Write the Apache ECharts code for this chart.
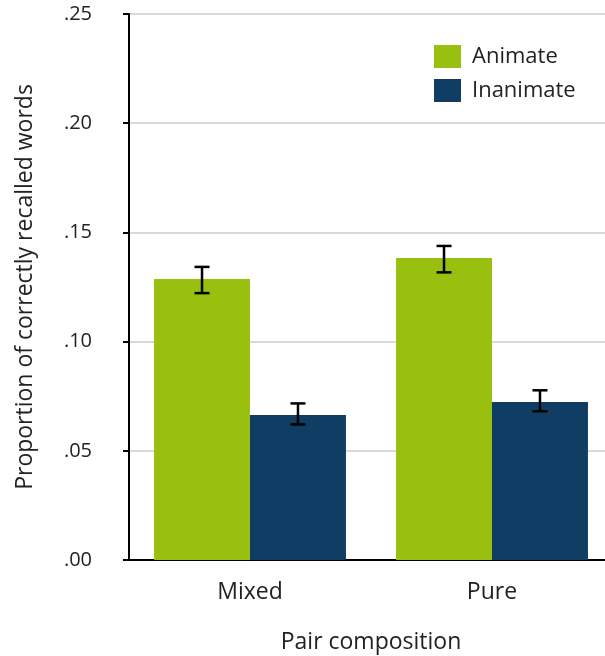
<!DOCTYPE html>
<html>
<head>
<meta charset="utf-8">
<script src="https://cdn.jsdelivr.net/npm/echarts@6/dist/echarts.min.js"></script>
<style>html,body{margin:0;padding:0;background:#fff}#c{width:605px;height:656px}</style>
</head>
<body>
<div id="c"></div>
<script>
var categories = ['Mixed', 'Pure'];
var seriesNames = ['Animate', 'Inanimate'];
var animate = [0.1287, 0.1383];
var inanimate = [0.0664, 0.0723];
var animateLow = [0.1222, 0.1317];
var animateHigh = [0.1342, 0.1438];
var inanimateLow = [0.0621, 0.0681];
var inanimateHigh = [0.0717, 0.0777];
var yTicks = [0, 0.05, 0.10, 0.15, 0.20, 0.25];

var colors = ['#99bf0f', '#0f3d63'];
var FONT = 'Open Sans';
var gapPct = 0.207;

function errData(low, high) {
  return categories.map(function (c, i) { return [i, low[i], high[i]]; });
}
function errSeries(low, high, sideIdx) {
  return {
    type: 'custom',
    silent: true,
    z: 10,
    data: errData(low, high),
    renderItem: function (params, api) {
      var idx = api.value(0);
      var lo = api.coord([idx, api.value(1)]);
      var hi = api.coord([idx, api.value(2)]);
      var bw = api.size([1, 0])[0];
      var barW = bw * (1 - gapPct) / 2;
      var x = lo[0] + (sideIdx === 0 ? -barW / 2 : barW / 2);
      var cap = 7.5;
      var st = { stroke: '#000', lineWidth: 2.5 };
      return {
        type: 'group',
        children: [
          { type: 'line', shape: { x1: x, y1: lo[1], x2: x, y2: hi[1] }, style: st },
          { type: 'line', shape: { x1: x - cap, y1: lo[1], x2: x + cap, y2: lo[1] }, style: st },
          { type: 'line', shape: { x1: x - cap, y1: hi[1], x2: x + cap, y2: hi[1] }, style: st }
        ]
      };
    }
  };
}

var chart = echarts.init(document.getElementById('c'), null, { renderer: 'canvas' });
chart.setOption({
  animation: false,
  textStyle: { fontFamily: FONT, color: '#222' },
  grid: { left: 129, right: -8, top: 14, bottom: 96, outerBoundsMode: 'none', containLabel: false },
  legend: {
    data: seriesNames,
    orient: 'vertical',
    left: 429,
    top: 40,
    itemWidth: 27,
    itemHeight: 23,
    itemGap: 11,
    icon: 'rect',
    textStyle: { fontFamily: FONT, fontSize: 22, color: '#222', padding: [0, 0, 0, 6] }
  },
  xAxis: {
    type: 'category',
    data: categories,
    name: 'Pair composition',
    nameLocation: 'middle',
    nameGap: 71,
    nameTextStyle: { fontFamily: FONT, fontSize: 23, color: '#222' },
    axisLine: { lineStyle: { color: '#000', width: 2 } },
    axisTick: { show: false },
    axisLabel: { fontFamily: FONT, fontSize: 23, color: '#222', margin: 21 }
  },
  yAxis: {
    type: 'value',
    min: yTicks[0],
    max: yTicks[yTicks.length - 1],
    interval: 0.05,
    name: 'Proportion of correctly recalled words',
    nameLocation: 'middle',
    nameGap: 92,
    nameTextStyle: { fontFamily: FONT, fontSize: 23, color: '#222' },
    axisLine: { show: true, lineStyle: { color: '#000', width: 2 } },
    axisTick: { show: true, length: 6, lineStyle: { color: '#000', width: 2 } },
    splitLine: { lineStyle: { color: '#cccccc', width: 1.5 } },
    axisLabel: {
      fontFamily: FONT, fontSize: 20, color: '#222', margin: 37,
      formatter: function (v) { return v.toFixed(2).replace(/^0/, ''); }
    }
  },
  series: [
    { name: seriesNames[0], type: 'bar', data: animate, itemStyle: { color: colors[0] }, barGap: '0%', barCategoryGap: (gapPct * 100) + '%' },
    { name: seriesNames[1], type: 'bar', data: inanimate, itemStyle: { color: colors[1] }, barGap: '0%', barCategoryGap: (gapPct * 100) + '%' },
    errSeries(animateLow, animateHigh, 0),
    errSeries(inanimateLow, inanimateHigh, 1)
  ]
});
</script>
</body>
</html>
